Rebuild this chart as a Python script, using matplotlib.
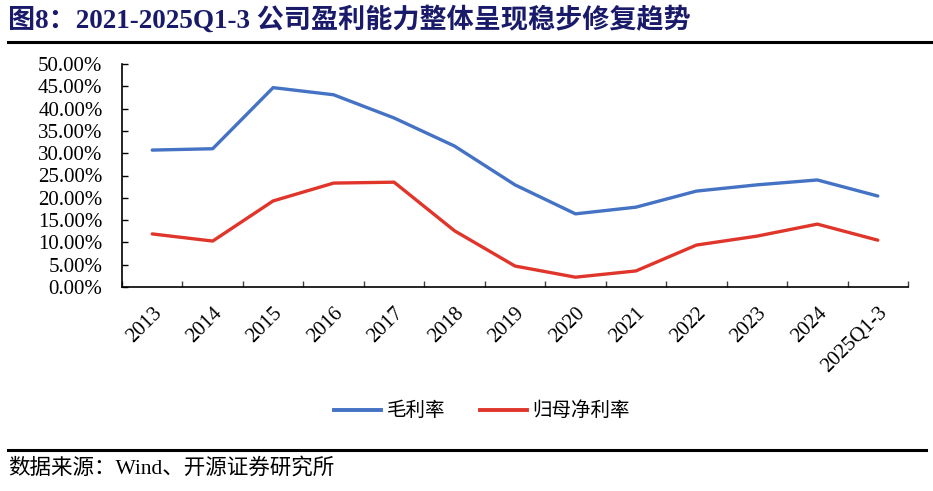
import matplotlib
matplotlib.use("Agg")
import matplotlib.pyplot as plt
from matplotlib.lines import Line2D
from matplotlib.ticker import FuncFormatter, FixedLocator

plt.rcParams['font.family'] = ['Liberation Serif', 'Noto Sans CJK SC']

categories = ["2013", "2014", "2015", "2016", "2017", "2018", "2019",
              "2020", "2021", "2022", "2023", "2024", "2025Q1-3"]
gross_margin = [30.7, 31.0, 44.7, 43.1, 37.9, 31.6, 22.9, 16.4, 17.9, 21.5, 22.9, 24.0, 20.4]
net_margin = [11.9, 10.3, 19.3, 23.3, 23.5, 12.6, 4.7, 2.2, 3.6, 9.4, 11.4, 14.1, 10.5]
series_names = ["毛利率", "归母净利率"]
title = "图8：2021-2025Q1-3 公司盈利能力整体呈现稳步修复趋势"
source = "数据来源：Wind、开源证券研究所"

W, H = 933, 491
fig = plt.figure(figsize=(W / 100, H / 100), dpi=100)
ax = fig.add_axes([122 / W, 1 - 287 / H, (908 - 122) / W, (287 - 64) / H])

x = list(range(len(categories)))
blue = "#4472C4"
red = "#E0352B"
ax.plot(x, gross_margin, color=blue, lw=2.4, solid_capstyle='round', solid_joinstyle='round')
ax.plot(x, net_margin, color=red, lw=2.4, solid_capstyle='round', solid_joinstyle='round')

ax.set_xlim(-0.5, len(categories) - 0.5)
ax.set_ylim(0, 50)
ax.set_yticks([i * 5 for i in range(11)])
ax.yaxis.set_major_formatter(FuncFormatter(lambda v, p: f"{v:.2f}%"))
ax.tick_params(axis='y', direction='in', length=4.5, width=1, labelsize=15, pad=14, colors='black')

ax.set_xticks(x)
ax.set_xticklabels(categories, rotation=45, ha='right', va='top', rotation_mode='anchor', fontsize=15)
ax.tick_params(axis='x', which='major', length=0, pad=12)
ax.xaxis.set_minor_locator(FixedLocator([i - 0.5 for i in range(len(categories) + 1)]))
ax.tick_params(axis='x', which='minor', direction='in', length=4, width=1, color='#404040')

for s in ['top', 'right']:
    ax.spines[s].set_visible(False)
for s in ['left', 'bottom']:
    ax.spines[s].set_color('black')
    ax.spines[s].set_linewidth(1.2)

handles = [Line2D([], [], color=blue, lw=2.8), Line2D([], [], color=red, lw=2.8)]
fig.legend(handles, series_names, loc='center', bbox_to_anchor=(482 / W, 1 - 411 / H),
           ncol=2, frameon=False, fontsize=14, handlelength=2.4, handletextpad=0.3,
           columnspacing=1.8)

fig.text(8 / W, 1 - 20 / H, title, fontsize=19.5, fontweight='bold', color='#1A1A6B',
         ha='left', va='center')
fig.add_artist(Line2D([8 / W, 1.0], [1 - 42 / H, 1 - 42 / H], color='black', lw=2.2))
fig.add_artist(Line2D([8 / W, 926 / W], [1 - 450 / H, 1 - 450 / H], color='black', lw=2.2))
fig.text(8 / W, 1 - 468 / H, source, fontsize=15.5, color='black', ha='left', va='center')

fig.savefig("out.png", dpi=100)
